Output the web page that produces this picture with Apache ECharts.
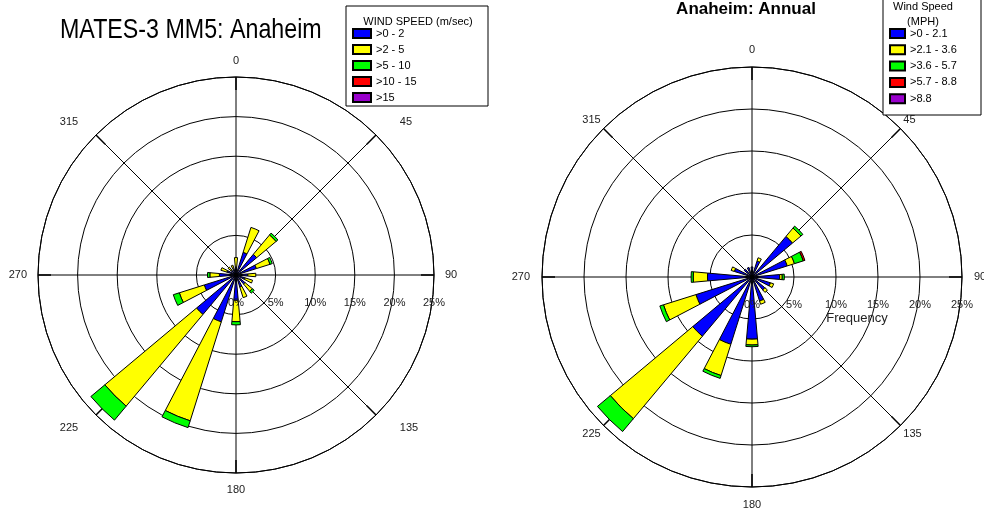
<!DOCTYPE html>
<html>
<head>
<meta charset="utf-8">
<script src="https://cdn.jsdelivr.net/npm/echarts@6/dist/echarts.min.js"></script>
<style>
  html, body { margin: 0; padding: 0; background: #fff; }
  #chart { width: 984px; height: 516px; }
</style>
</head>
<body>
<div id="chart"></div>
<script>
// 16 compass sectors, clockwise from north
const directions = ['N', 'NNE', 'NE', 'ENE', 'E', 'ESE', 'SE', 'SSE', 'S', 'SSW', 'SW', 'WSW', 'W', 'WNW', 'NW', 'NNW'];

// MATES-3 MM5 model, frequency (%) per speed class (m/sec)
const mm5Speed0to2   = [1.0, 3.0, 3.4, 2.7, 1.5, 1.2, 1.5, 1.6, 3.2, 6.2, 6.5, 4.2, 2.1, 1.2, 0.8, 0.8];
const mm5Speed2to5   = [1.2, 3.3, 3.2, 1.8, 1.0, 1.0, 1.2, 1.4, 2.7, 13.1, 15.1, 3.3, 1.2, 0.8, 0.5, 0.5];
const mm5Speed5to10  = [0, 0, 0.3, 0.3, 0, 0, 0.3, 0, 0.4, 0.9, 2.3, 0.8, 0.3, 0, 0, 0];
const mm5Speed10to15 = [0, 0, 0, 0, 0, 0, 0, 0, 0, 0, 0, 0, 0, 0, 0, 0];
const mm5Speed15up   = [0, 0, 0, 0, 0, 0, 0, 0, 0, 0, 0, 0, 0, 0, 0, 0];
const mm5ClassNames  = ['>0 - 2', '>2 - 5', '>5 - 10', '>10 - 15', '>15'];

// Anaheim annual observations, frequency (%) per speed class (MPH)
const obsSpeed0to21  = [1.2, 2.0, 6.3, 4.4, 3.3, 2.3, 2.0, 3.0, 7.4, 8.4, 9.2, 7.0, 5.3, 2.2, 1.2, 1.2];
const obsSpeed21to36 = [0, 0.4, 1.3, 0.9, 0.3, 0.4, 0.4, 0.4, 0.7, 3.9, 12.8, 4.05, 1.7, 0.4, 0, 0];
const obsSpeed36to57 = [0, 0, 0.3, 1.1, 0.25, 0, 0, 0, 0.2, 0.35, 2.0, 0.45, 0.25, 0, 0, 0];
const obsSpeed57to88 = [0, 0, 0, 0.2, 0, 0, 0, 0, 0, 0, 0, 0, 0, 0, 0, 0];
const obsSpeed88up   = [0, 0, 0, 0, 0, 0, 0, 0, 0, 0, 0, 0, 0, 0, 0, 0];
const obsClassNames  = ['>0 - 2.1', '>2.1 - 3.6', '>3.6 - 5.7', '>5.7 - 8.8', '>8.8'];

// Frequency rings and compass ticks
const frequencyTicks = [0, 5, 10, 15, 20, 25];
const compassStep = 45;

const classColors = ['#0000FF', '#FFFF00', '#00FF00', '#FF0000', '#9900CC'];
const FONT = "'Liberation Sans', Arial, sans-serif";

const roses = [
  { center: [236, 275], radius: 198, labelMargin: 11,
    labelPad: { 0: [0, 0, 0, 0], 45: [0, 0, 0, 16], 90: [0, 0, 0, 0], 135: [0, 0, 0, 16],
                180: [0, 0, 0, 0], 225: [0, 10, 0, 0], 270: [0, 0, 0, 0], 315: [0, 10, 0, 0] },
    names: mm5ClassNames,
    classes: [mm5Speed0to2, mm5Speed2to5, mm5Speed5to10, mm5Speed10to15, mm5Speed15up],
    axisName: '' },
  { center: [752, 277], radius: 210, labelMargin: 4,
    labelPad: { 0: [0, 0, 8, 0], 45: [0, 0, 0, 0], 90: [0, 0, 0, 8], 135: [0, 0, 0, 0],
                180: [8, 0, 0, 0], 225: [0, 0, 0, 0], 270: [0, 8, 0, 0], 315: [0, 0, 0, 0] },
    names: obsClassNames,
    classes: [obsSpeed0to21, obsSpeed21to36, obsSpeed36to57, obsSpeed57to88, obsSpeed88up],
    axisName: 'Frequency' }
];

const polar = [], angleAxis = [], radiusAxis = [], series = [];
const fMax = frequencyTicks[frequencyTicks.length - 1];
const fStep = frequencyTicks[1] - frequencyTicks[0];

roses.forEach((rose, r) => {
  const gridIdx = r * 3, barIdx = r * 3 + 1, labIdx = r * 3 + 2;
  for (let k = 0; k < 3; k++) polar.push({ center: rose.center, radius: rose.radius });

  // compass grid: spokes every 45 deg, rings every 5 %
  const rich = {};
  Object.keys(rose.labelPad).forEach(d => {
    rich['d' + d] = { padding: rose.labelPad[d], fontSize: 11, color: '#222', fontFamily: FONT };
  });
  angleAxis.push({
    polarIndex: gridIdx, type: 'value', min: 0, max: 360, interval: compassStep,
    startAngle: 0, clockwise: true, z: 0,
    axisLine: { lineStyle: { color: '#000', width: 1 } },
    axisTick: { show: true, inside: true, length: 13, lineStyle: { color: '#000', width: 1.5 } },
    splitLine: { show: true, lineStyle: { color: '#000', width: 1 } },
    axisLabel: {
      margin: rose.labelMargin, fontSize: 11, color: '#222', fontFamily: FONT, rich: rich,
      formatter: v => {
        if (v >= 360) return '';
        const deg = (v + 90) % 360;
        return '{d' + deg + '|' + deg + '}';
      }
    }
  });
  radiusAxis.push({
    polarIndex: gridIdx, type: 'value', min: 0, max: fMax, interval: fStep, z: 0,
    axisLine: { show: false }, axisTick: { show: false }, axisLabel: { show: false },
    splitLine: { show: true, lineStyle: { color: '#000', width: 1 } }
  });

  // sector bars
  angleAxis.push({
    polarIndex: barIdx, type: 'category', data: directions, boundaryGap: true,
    startAngle: 90 + 180 / directions.length, clockwise: true,
    axisLine: { show: false }, axisTick: { show: false }, axisLabel: { show: false },
    splitLine: { show: false }
  });
  radiusAxis.push({
    polarIndex: barIdx, type: 'value', min: 0, max: fMax,
    axisLine: { show: false }, axisTick: { show: false }, axisLabel: { show: false },
    splitLine: { show: false }
  });

  // frequency labels along the east radius, drawn over the bars
  angleAxis.push({
    polarIndex: labIdx, type: 'value', min: 0, max: 360, startAngle: 0, clockwise: true, show: false
  });
  radiusAxis.push({
    polarIndex: labIdx, type: 'value', min: 0, max: fMax, interval: fStep, z: 10,
    axisLine: { show: false }, axisTick: { show: false }, splitLine: { show: false },
    axisLabel: { margin: -33, fontSize: 11, color: '#222', fontFamily: FONT, formatter: v => v + '%' },
    name: rose.axisName, nameLocation: 'middle', nameGap: 35,
    nameTextStyle: { fontSize: 13, color: '#222', fontFamily: FONT }
  });

  rose.classes.forEach((vals, c) => {
    series.push({
      type: 'bar', name: rose.names[c], coordinateSystem: 'polar', polarIndex: barIdx,
      stack: 'rose' + r, barWidth: '45%', z: 2,
      itemStyle: { color: classColors[c], borderColor: '#000', borderWidth: 1 },
      emphasis: { disabled: true },
      data: vals.map(v => (v > 0 ? v : '-'))
    });
  });
});

const chart = echarts.init(document.getElementById('chart'), null, { renderer: 'canvas' });
chart.setOption({
  animation: false,
  backgroundColor: '#fff',
  textStyle: { fontFamily: FONT },
  title: [
    { text: 'Anaheim: Annual', left: 746, textAlign: 'center', top: 1, padding: 0,
      textStyle: { fontSize: 17, fontWeight: 'bold', color: '#000', fontFamily: FONT } }
  ],
  polar: polar,
  angleAxis: angleAxis,
  radiusAxis: radiusAxis,
  legend: [
    { data: mm5ClassNames, orient: 'vertical', left: 352, top: 27, padding: 0, z: 30,
      itemWidth: 18, itemHeight: 9, itemGap: 3, icon: 'rect', selectedMode: false,
      textStyle: { fontSize: 11, color: '#000', lineHeight: 13, fontFamily: FONT } },
    { data: obsClassNames, orient: 'vertical', left: 889, top: 27, padding: 0, z: 30,
      itemWidth: 15, itemHeight: 9, itemGap: 3.3, icon: 'rect', selectedMode: false,
      textStyle: { fontSize: 11, color: '#000', lineHeight: 13, fontFamily: FONT } }
  ],
  graphic: [
    // condensed main title
    { type: 'text', z: 31, x: 60, y: 30.5, scaleX: 0.83, scaleY: 1,
      style: { text: 'MATES-3 MM5: Anaheim', fontSize: 28, fontFamily: FONT, fill: '#000',
               textAlign: 'left', textVerticalAlign: 'middle' } },
    { type: 'rect', z: 20, shape: { x: 346, y: 6, width: 142, height: 100 },
      style: { fill: '#fff', stroke: '#000', lineWidth: 1 } },
    { type: 'text', z: 31, x: 418, y: 22,
      style: { text: 'WIND SPEED (m/sec)', fontSize: 11, fontFamily: FONT, fill: '#000',
               textAlign: 'center', textVerticalAlign: 'middle' } },
    { type: 'rect', z: 20, shape: { x: 883, y: -2, width: 98, height: 117 },
      style: { fill: '#fff', stroke: '#000', lineWidth: 1 } },
    { type: 'text', z: 31, x: 923, y: 7,
      style: { text: 'Wind Speed', fontSize: 11, fontFamily: FONT, fill: '#000',
               textAlign: 'center', textVerticalAlign: 'middle' } },
    { type: 'text', z: 31, x: 923, y: 21.5,
      style: { text: '(MPH)', fontSize: 11, fontFamily: FONT, fill: '#000',
               textAlign: 'center', textVerticalAlign: 'middle' } }
  ],
  series: series
});
</script>
</body>
</html>
